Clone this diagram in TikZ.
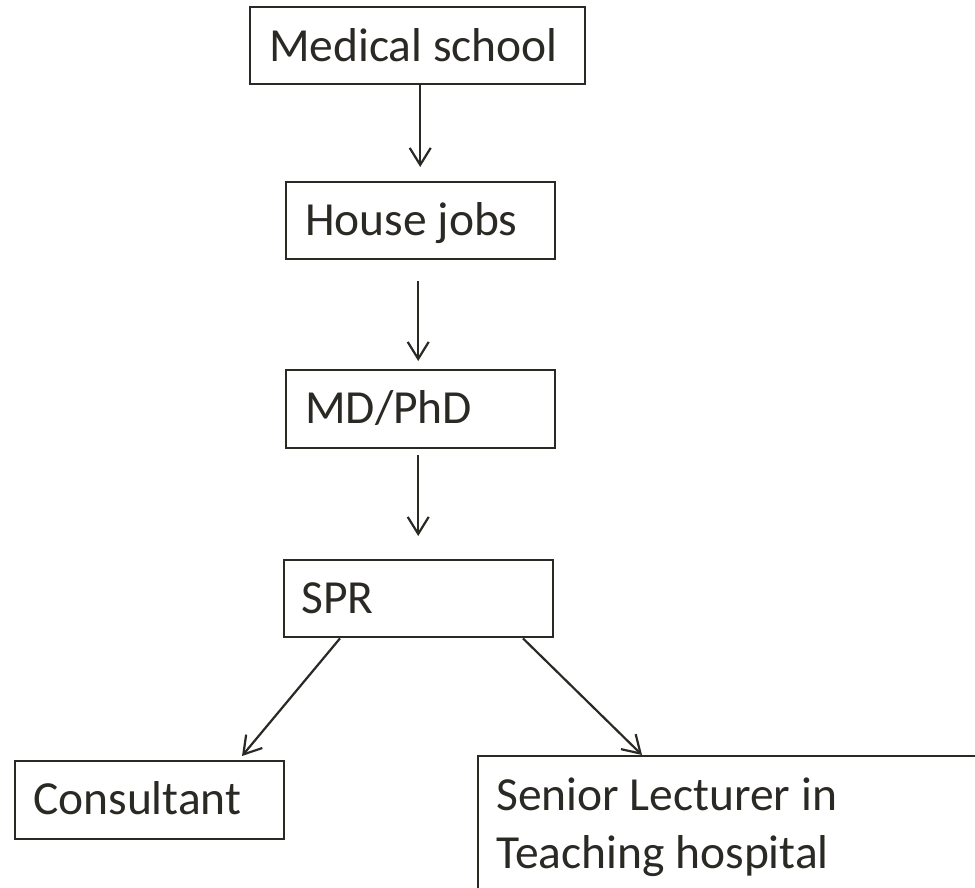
\documentclass[tikz,border=0pt]{standalone}
\usepackage{fontspec}
\setmainfont{Carlito}
\usetikzlibrary{arrows.meta,calc}
\definecolor{ink}{HTML}{2B2924}
\tikzset{
  box/.style={draw=ink, line width=2.4pt, rectangle, inner sep=0pt, anchor=north west},
  lbl/.style={text=ink, inner sep=0pt, anchor=base west, font=\fontsize{47.5}{58}\selectfont},
  arr/.style={draw=ink, line width=2.2pt, -{Straight Barb[length=17pt,width=21pt]}}
}
\begin{document}
\begin{tikzpicture}[x=1pt,y=-1pt]
\useasboundingbox (0,0) rectangle (975,888);
\clip (0,0) rectangle (975,888);
\node[box, minimum width=335pt, minimum height=77pt] (ms) at (249,6) {};
\node[box, minimum width=269pt, minimum height=77pt] (hj) at (285,181) {};
\node[box, minimum width=269pt, minimum height=78pt] (md) at (285,369) {};
\node[box, minimum width=269pt, minimum height=77pt] (spr) at (283,559) {};
\node[box, minimum width=269pt, minimum height=78pt] (cons) at (14,760) {};
\node[box, minimum width=530pt, minimum height=170pt] (sen) at (477,755) {};

\node[lbl] (mst) at (269,62) {Medical school};
\node[lbl] (hjt) at (305,235) {House jobs};
\node[lbl] (mdt) at (305,423) {MD/PhD};
\node[lbl] (sprt) at (301,613) {SPR};
\node[lbl] (const) at (33,814) {Consultant};
\node[lbl, align=left] (sent) at (496,868) {Senior Lecturer in\\Teaching hospital};

\draw[arr] ($(ms.south)+(2.5,0)$) -- ($(hj.north)+(-0.5,-14)$);
\draw[arr] ($(hj.south)+(-2.5,21)$) -- ($(md.north)+(-2.5,-8)$);
\draw[arr] ($(md.south)+(-2.5,6)$) -- ($(spr.north)+(-0.5,-23)$);
\draw[arr] ($(spr.south west)+(57,0)$) -- ($(cons.north west)+(228,-4)$);
\draw[arr] ($(spr.south west)+(240,0)$) -- ($(sen.north west)+(165,0)$);
\end{tikzpicture}
\end{document}
